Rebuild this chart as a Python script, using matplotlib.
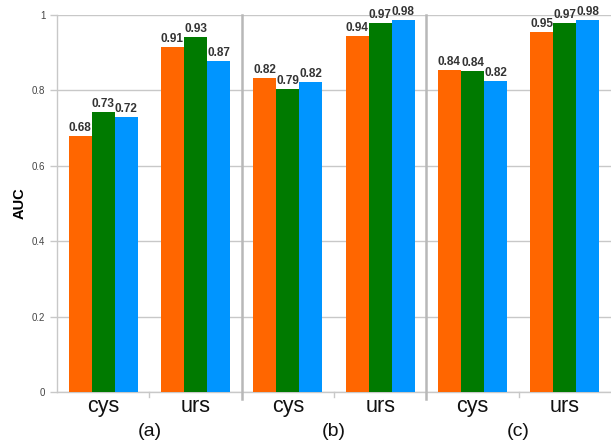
import numpy as np
import matplotlib
matplotlib.use("Agg")
import matplotlib.pyplot as plt

plt.rcParams["font.family"] = ["Liberation Sans", "DejaVu Sans"]

panels = ["(a)", "(b)", "(c)"]
groups = ["cys", "urs"]
# bar heights per panel, in order cys, urs
orange = [0.68, 0.915, 0.833, 0.944, 0.854, 0.955]
green = [0.743, 0.942, 0.804, 0.979, 0.851, 0.979]
blue = [0.73, 0.878, 0.822, 0.987, 0.825, 0.987]
orange_lbl = ["0.68", "0.91", "0.82", "0.94", "0.84", "0.95"]
green_lbl = ["0.73", "0.93", "0.79", "0.97", "0.84", "0.97"]
blue_lbl = ["0.72", "0.87", "0.82", "0.98", "0.82", "0.98"]

colors = ["#ff6600", "#007a00", "#0095ff"]
series = [(orange, orange_lbl), (green, green_lbl), (blue, blue_lbl)]

fig = plt.figure(figsize=(6.11, 4.44), dpi=100)
ax = fig.add_axes([57 / 611, 52 / 444, 1 - 57 / 611, (392 - 15) / 444])

panel_w = 8
grp_x = []
for p in range(len(panels)):
    for g in range(len(groups)):
        grp_x.append(p * panel_w + 2 + 4 * g)
grp_x = np.array(grp_x)

for k, (vals, lbls) in enumerate(series):
    xs = grp_x + (k - 1)
    ax.bar(xs, vals, width=1.0, color=colors[k], zorder=3)
    for x, v, t in zip(xs, vals, lbls):
        ax.annotate(t, (x, v), xytext=(0, 1.5), textcoords="offset points",
                    ha="center", va="bottom", fontsize=8.5, fontweight="bold",
                    color="#333333", zorder=4)

ax.set_xlim(0, panel_w * len(panels))
ax.set_ylim(0, 1)
ax.set_yticks(np.arange(0, 1.01, 0.2))
ax.set_yticklabels(["0", "0.2", "0.4", "0.6", "0.8", "1"])
ax.tick_params(axis="y", labelsize=7, colors="#c8c8c8", labelcolor="#444444",
               length=5, width=1)
ax.grid(axis="y", color="#c8c8c8", linewidth=1, zorder=0)

ax.set_xticks([])
for p in range(len(panels)):
    ax.plot([p * panel_w + 4] * 2, [0, -0.012], color="#c8c8c8", lw=1,
            clip_on=False)
    if p > 0:
        ax.plot([p * panel_w] * 2, [1, -0.018], color="#b8b8b8", lw=1.8,
                clip_on=False, zorder=5)
    for g in range(len(groups)):
        ax.text(p * panel_w + 2 + 4 * g, -0.038, groups[g], ha="center",
                va="center", fontsize=15.5, color="#111111")
    ax.text(p * panel_w + 4, -0.104, panels[p], ha="center", va="center",
            fontsize=14, color="#111111")

for s in ["top", "right"]:
    ax.spines[s].set_visible(False)
for s in ["left", "bottom"]:
    ax.spines[s].set_color("#c8c8c8")
    ax.spines[s].set_linewidth(1)

ax.set_ylabel("AUC", fontsize=10.5, fontweight="bold")
ax.yaxis.set_label_coords(-0.054, 0.5)

fig.savefig("out.png", dpi=100)
